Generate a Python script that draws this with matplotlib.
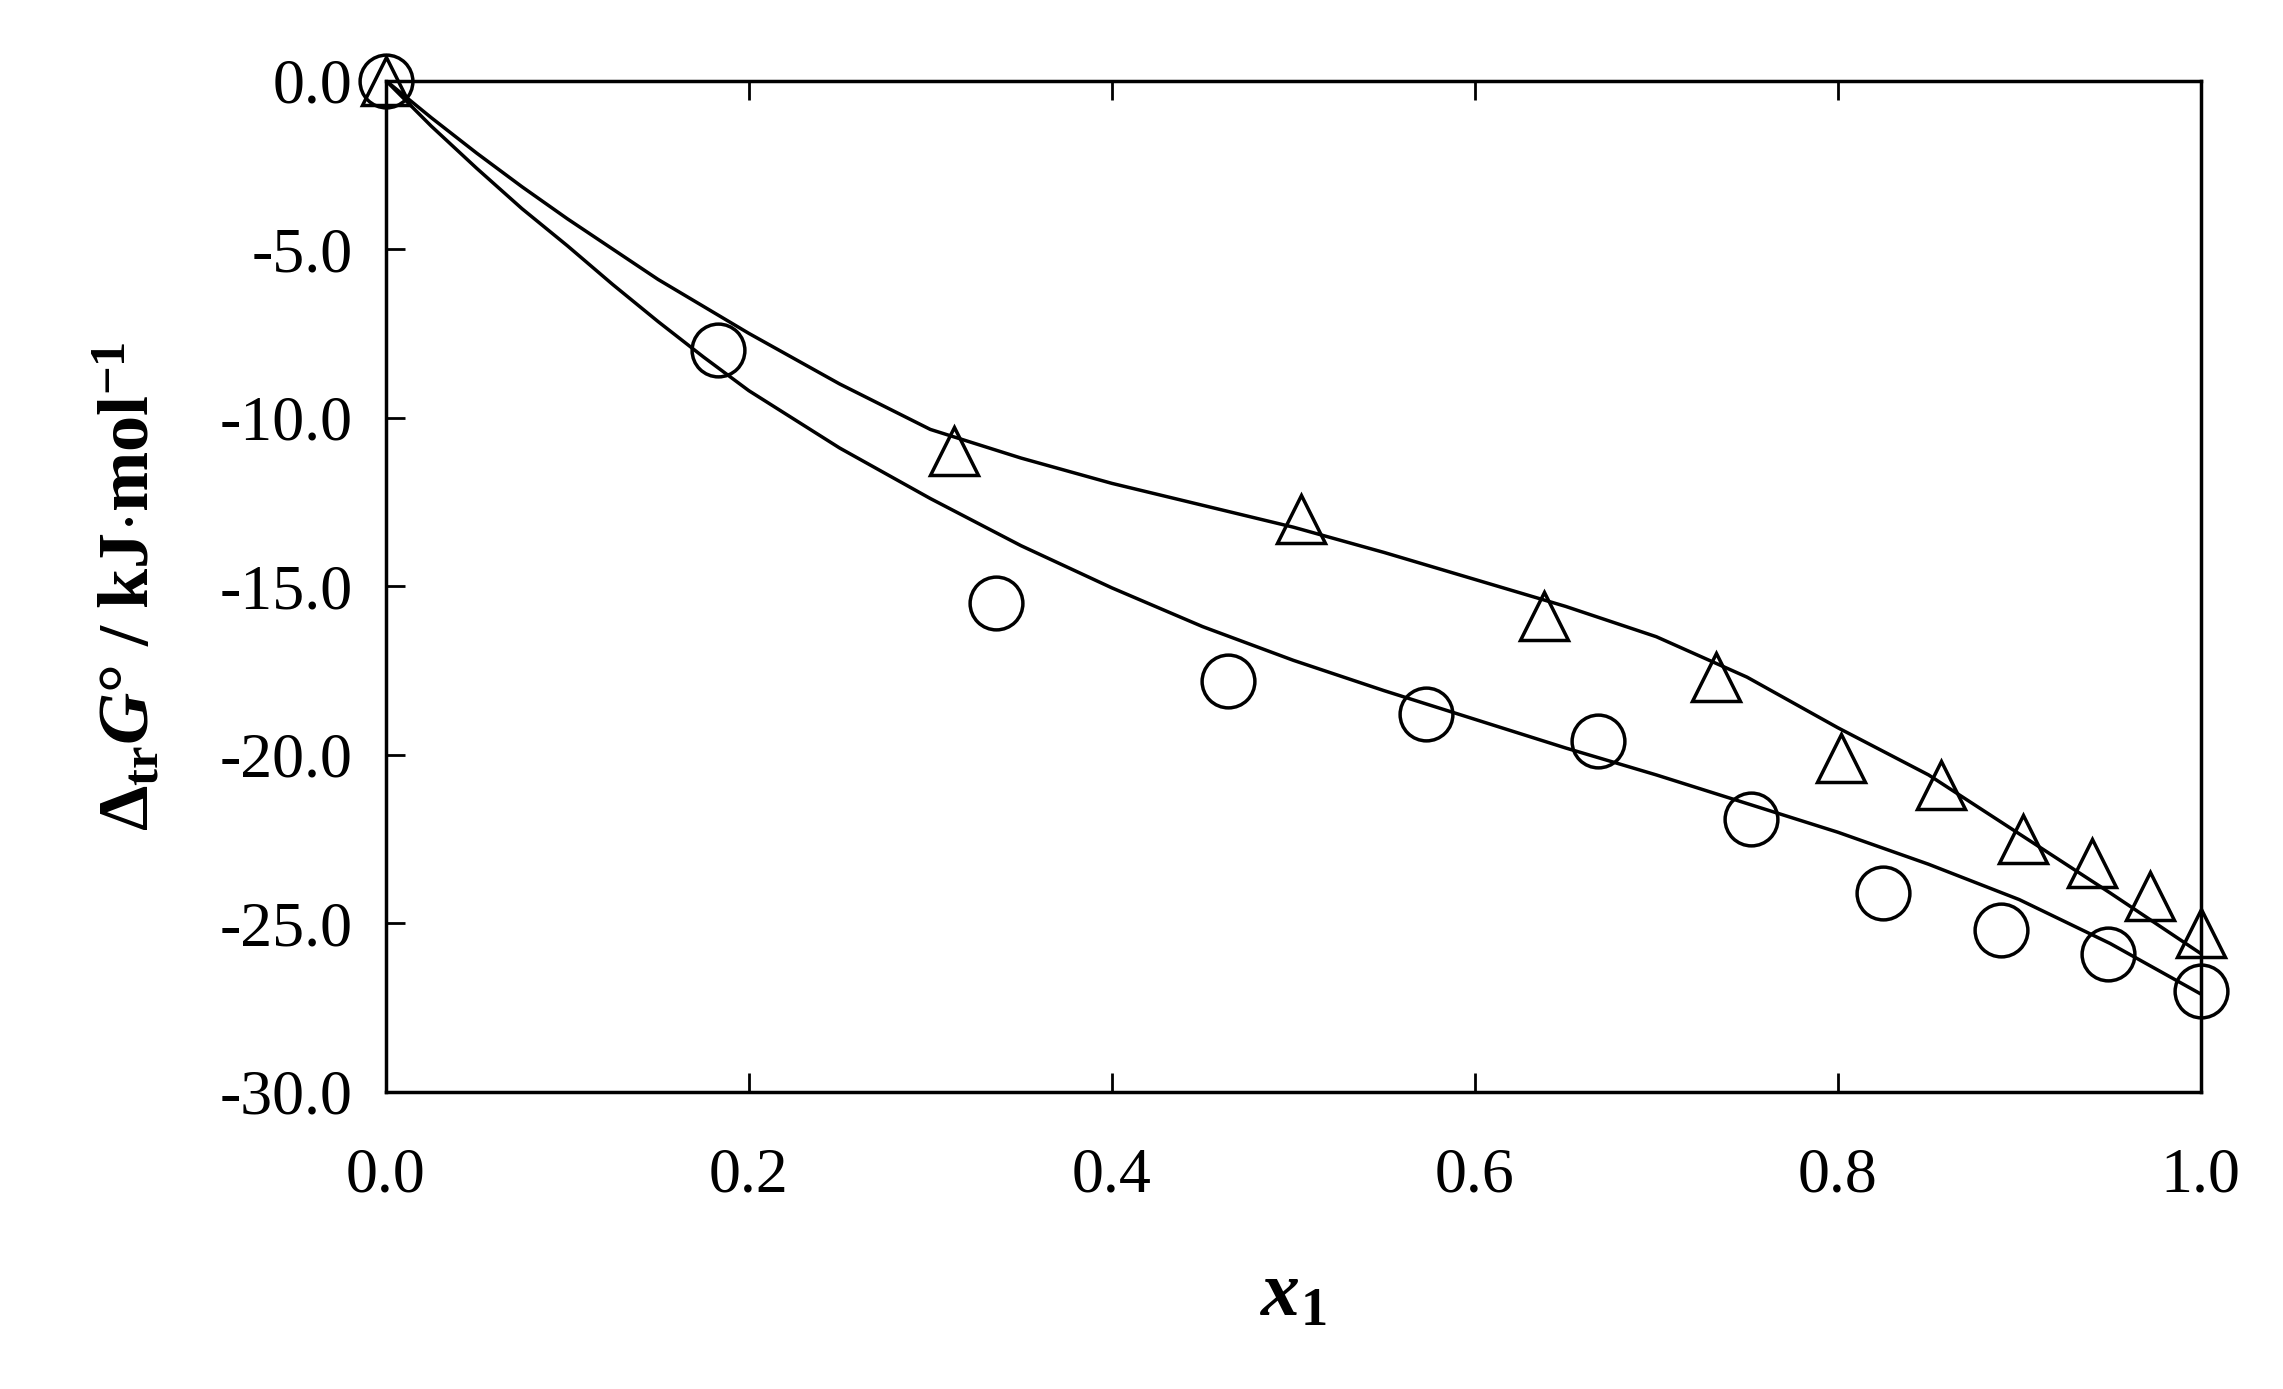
import matplotlib
matplotlib.use("Agg")
import matplotlib.pyplot as plt

circ_x = [0.0, 0.183, 0.336, 0.464, 0.573, 0.668, 0.752, 0.825, 0.890, 0.949, 1.0]
circ_y = [0.0, -8.0, -15.5, -17.8, -18.8, -19.6, -21.9, -24.1, -25.2, -25.9, -27.0]
tri_x = [0.0, 0.313, 0.504, 0.638, 0.733, 0.802, 0.857, 0.902, 0.940, 0.972, 1.0]
tri_y = [0.0, -11.0, -13.0, -15.9, -17.7, -20.1, -20.9, -22.5, -23.2, -24.2, -25.3]
low_x = [0, 0.025, 0.05, 0.075, 0.1, 0.125, 0.15, 0.175, 0.2, 0.25, 0.3, 0.35, 0.4, 0.45, 0.5,
         0.55, 0.6, 0.65, 0.7, 0.75, 0.8, 0.85, 0.9, 0.95, 1.0]
low_y = [0, -1.35, -2.6, -3.8, -4.9, -6.05, -7.15, -8.2, -9.2, -10.9, -12.4, -13.8, -15.05, -16.2, -17.2,
         -18.1, -18.95, -19.8, -20.6, -21.45, -22.3, -23.25, -24.3, -25.6, -27.1]
up_x = [0, 0.025, 0.05, 0.075, 0.1, 0.15, 0.2, 0.25, 0.3, 0.35, 0.4, 0.45, 0.5, 0.55, 0.6,
        0.65, 0.7, 0.75, 0.8, 0.85, 0.9, 0.95, 1.0]
up_y = [0, -1.1, -2.15, -3.15, -4.1, -5.9, -7.5, -9.0, -10.35, -11.2, -11.95, -12.6, -13.25, -14.0, -14.8,
        -15.6, -16.5, -17.7, -19.2, -20.6, -22.35, -24.1, -25.9]

plt.rcParams['font.family'] = ['Liberation Serif', 'DejaVu Serif']
plt.rcParams['mathtext.fontset'] = 'custom'
plt.rcParams['mathtext.rm'] = 'Liberation Serif'
plt.rcParams['mathtext.it'] = 'Liberation Serif:italic'
plt.rcParams['mathtext.bf'] = 'Liberation Serif:bold'
plt.rcParams['mathtext.bfit'] = 'Liberation Serif:bold:italic'

fig = plt.figure(figsize=(22.83, 13.89), dpi=100)
ax = fig.add_axes([0.169, 0.214, 0.795, 0.728])
ax.plot(low_x, low_y, color='black', lw=2.5)
ax.plot(up_x, up_y, color='black', lw=2.5)
ax.plot(circ_x, circ_y, 'o', ms=38, mfc='none', mec='black', mew=2.5, clip_on=False)
ax.plot(tri_x, tri_y, '^', ms=34, mfc='none', mec='black', mew=2.5, clip_on=False)
ax.set_xlim(0, 1)
ax.set_ylim(-30, 0)
ax.set_xticks([0, 0.2, 0.4, 0.6, 0.8, 1.0])
ax.set_yticks([0, -5, -10, -15, -20, -25, -30])
ax.set_xticklabels(['0.0', '0.2', '0.4', '0.6', '0.8', '1.0'])
ax.set_yticklabels(['0.0', '-5.0', '-10.0', '-15.0', '-20.0', '-25.0', '-30.0'])
ax.tick_params(direction='in', length=14, width=2, labelsize=46, top=True)
ax.tick_params(axis='y', pad=24)
ax.tick_params(axis='x', pad=40)
for s in ax.spines.values():
    s.set_linewidth(2.5)
ax.set_xlabel(r'$\boldsymbol{x}_\mathbf{1}$', fontsize=56, labelpad=40)
ax.set_ylabel(r'$\mathbf{\Delta_{tr}}\boldsymbol{G}\mathbf{°\ /\ kJ{\cdot}mol^{-1}}$', fontsize=52, labelpad=40)
fig.savefig('out.png', dpi=100)
